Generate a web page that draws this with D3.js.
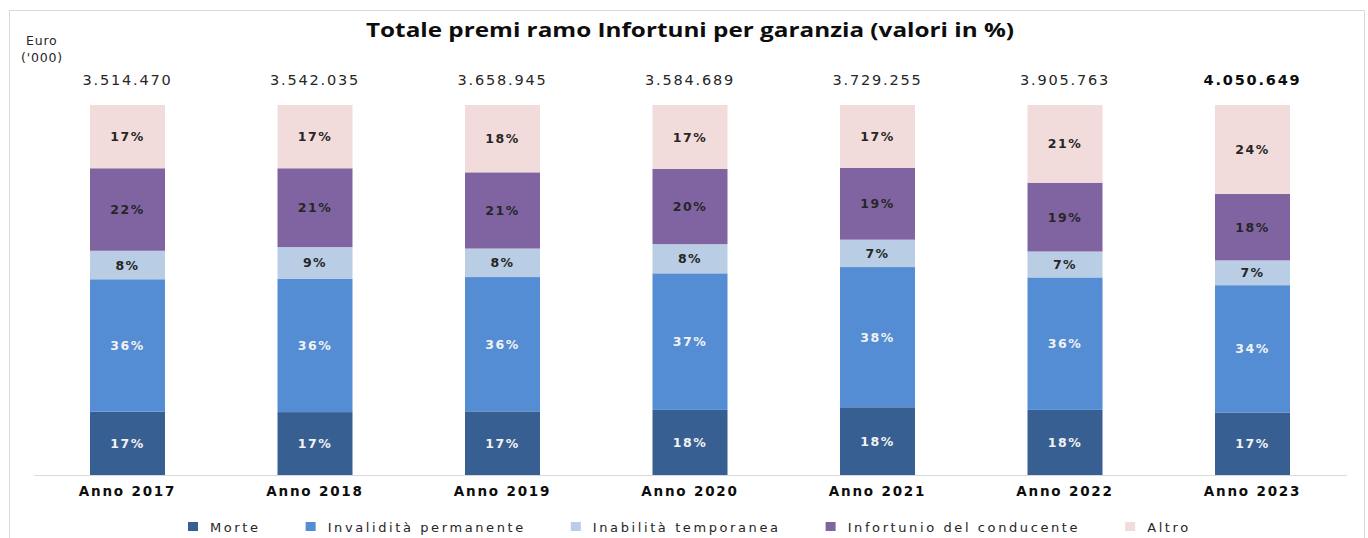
<!DOCTYPE html>
<html>
<head>
<meta charset="utf-8">
<script src="https://cdn.jsdelivr.net/npm/d3@7"></script>
<style>
  html, body { margin: 0; padding: 0; background: #ffffff; }
  svg { display: block; }
</style>
</head>
<body>
<svg id="chart" width="1368" height="538"></svg>
<script>
// ---------- DATA ----------
const years = ["Anno 2017", "Anno 2018", "Anno 2019", "Anno 2020", "Anno 2021", "Anno 2022", "Anno 2023"];
const totals = [3514470, 3542035, 3658945, 3584689, 3729255, 3905763, 4050649];
const seriesNames = ["Morte", "Invalidità permanente", "Inabilità temporanea", "Infortunio del conducente", "Altro"];
const morte      = [17.1, 17.0, 17.2, 17.6, 18.3, 17.6, 16.9];
const invalidita = [35.8, 36.0, 36.3, 36.9, 37.9, 35.8, 34.4];
const inabilita  = [7.7, 8.6, 7.7, 7.9, 7.4, 7.0, 6.7];
const infortunio = [22.3, 21.3, 20.6, 20.3, 19.4, 18.6, 18.0];
const altro      = [17.1, 17.1, 18.2, 17.3, 17.0, 21.0, 24.0];
const yDomain = [0, 100];

// ---------- STYLE ----------
const colors = ["#375f92", "#548dd4", "#b9cde5", "#8064a2", "#f2dcdb"];
const labelColors = ["#f2f2f2", "#f2f2f2", "#262626", "#262626", "#262626"];

const seriesValues = [morte, invalidita, inabilita, infortunio, altro];
const rows = years.map((y, i) => {
  const r = { year: y };
  seriesNames.forEach((k, s) => r[k] = seriesValues[s][i]);
  return r;
});

const svg = d3.select("#chart");

// frame
svg.append("rect").attr("x", 9.5).attr("y", 10.5).attr("width", 1355).attr("height", 540)
  .attr("fill", "none").attr("stroke", "#d9d9d9").attr("stroke-width", 1);

const x = d3.scaleBand().domain(years).range([33.75, 1346.25]).paddingInner(0.6).paddingOuter(0.3);
const y = d3.scaleLinear().domain(yDomain).range([475, 105]);

const stacked = d3.stack().keys(seriesNames)(rows);

// bars
const g = svg.append("g");
stacked.forEach((layer, s) => {
  const lg = g.append("g");
  lg.selectAll("rect").data(layer).join("rect")
    .attr("x", d => x(d.data.year))
    .attr("width", x.bandwidth())
    .attr("y", d => y(d[1]))
    .attr("height", d => y(d[0]) - y(d[1]))
    .attr("fill", colors[s]);
  lg.selectAll("text").data(layer).join("text")
    .attr("x", d => x(d.data.year) + x.bandwidth() / 2)
    .attr("y", d => (y(d[0]) + y(d[1])) / 2)
    .attr("dy", "0.36em")
    .attr("text-anchor", "middle")
    .attr("font-family", "DejaVu Sans, Verdana, sans-serif")
    .attr("font-size", 12.5)
    .attr("font-weight", "bold")
    .attr("letter-spacing", 1.5)
    .attr("fill", labelColors[s])
    .text(d => Math.round(d[1] - d[0]) + "%");
});

// x axis
const xAxis = d3.axisBottom(x).tickSize(0).tickPadding(11);
const ax = svg.append("g").attr("transform", "translate(0,475)").call(xAxis);
ax.select(".domain").attr("stroke", "#d9d9d9").attr("stroke-width", 1.2);
ax.selectAll("text")
  .attr("font-family", "DejaVu Sans, Verdana, sans-serif")
  .attr("font-size", 13.5)
  .attr("font-weight", "bold")
  .attr("letter-spacing", 1.8)
  .attr("fill", "#0d0d0d");

// totals
const itFmt = d3.formatLocale({ decimal: ",", thousands: ".", grouping: [3], currency: ["€", ""] }).format(",d");
svg.append("g").selectAll("text").data(years).join("text")
  .attr("x", d => x(d) + x.bandwidth() / 2)
  .attr("y", 85)
  .attr("text-anchor", "middle")
  .attr("font-family", "DejaVu Sans, Verdana, sans-serif")
  .attr("font-size", 14.5)
  .attr("letter-spacing", 1.8)
  .attr("font-weight", (d, i) => i === years.length - 1 ? "bold" : "normal")
  .attr("fill", (d, i) => i === years.length - 1 ? "#0d0d0d" : "#262626")
  .text((d, i) => itFmt(totals[i]));

// title
svg.append("text")
  .attr("x", 690).attr("y", 37)
  .attr("text-anchor", "middle")
  .attr("font-family", "Open Sans, sans-serif")
  .attr("font-size", 20)
  .attr("font-weight", "bold")
  .attr("fill", "#0d0d0d")
  .attr("textLength", 648).attr("lengthAdjust", "spacingAndGlyphs")
  .text("Totale premi ramo Infortuni per garanzia (valori in %)");

// unit label
const unit = svg.append("g")
  .attr("font-family", "DejaVu Sans, Verdana, sans-serif")
  .attr("font-size", 12.5)
  .attr("letter-spacing", 0.8)
  .attr("fill", "#262626");
unit.append("text").attr("x", 26).attr("y", 45).text("Euro");
unit.append("text").attr("x", 21).attr("y", 62).text("('000)");

// legend
const leg = svg.append("g");
let cx = 0;
const gap = 45;
seriesNames.forEach((name, i) => {
  const it = leg.append("g").attr("transform", `translate(${cx},0)`);
  it.append("rect").attr("x", 0).attr("y", -5).attr("width", 10).attr("height", 9).attr("fill", colors[i]);
  const t = it.append("text").attr("x", 22).attr("y", 0).attr("dy", "0.36em")
    .attr("font-family", "DejaVu Sans, Verdana, sans-serif")
    .attr("font-size", 13)
    .attr("letter-spacing", 2.6)
    .attr("fill", "#262626")
    .text(name);
  cx += 22 + t.node().getComputedTextLength() + gap;
});
leg.attr("transform", `translate(188,527)`);
</script>
</body>
</html>
